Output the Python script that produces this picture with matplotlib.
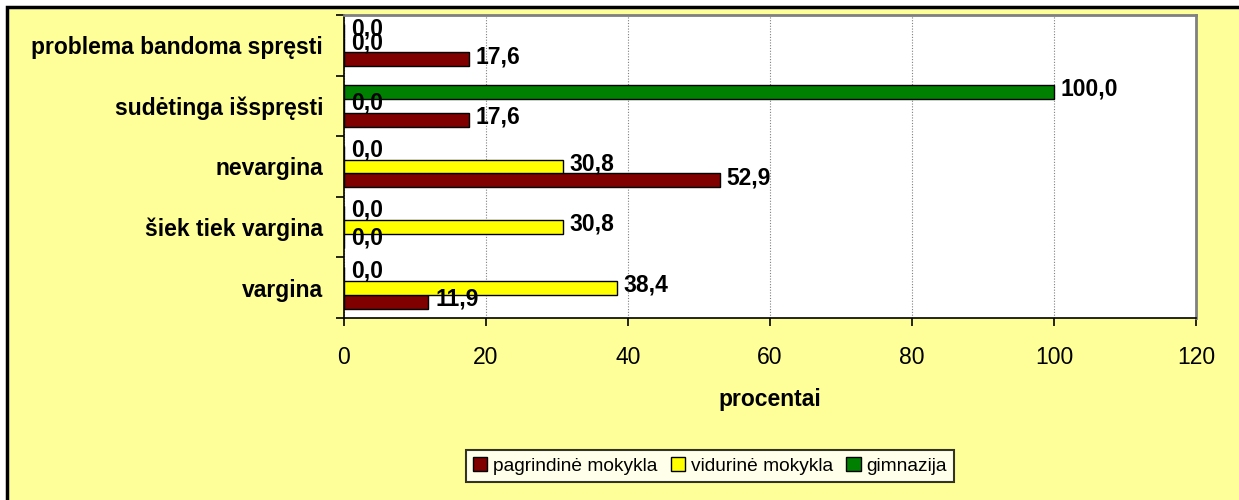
import matplotlib
matplotlib.use("Agg")
import matplotlib.pyplot as plt
from matplotlib.patches import Rectangle
import numpy as np

plt.rcParams['font.family'] = ['Liberation Sans', 'DejaVu Sans']

categories = ["vargina", "šiek tiek vargina", "nevargina",
              "sudėtinga išspręsti", "problema bandoma spręsti"]
series_names = ["pagrindinė mokykla", "vidurinė mokykla", "gimnazija"]
pagrindine = [11.9, 0.0, 52.9, 17.6, 17.6]
vidurine = [38.4, 30.8, 30.8, 0.0, 0.0]
gimnazija = [0.0, 0.0, 0.0, 100.0, 0.0]
xticks = [0, 20, 40, 60, 80, 100, 120]
xlabel = "procentai"

colors = ["#800000", "#FFFF00", "#008000"]
FS = 16.5
W, H = 1239, 500
fig = plt.figure(figsize=(W / 100, H / 100), dpi=100)
fig.patch.set_facecolor("white")
# yellow chart area with black border (top/left visible)
fig.patches.append(Rectangle((7 / W, -0.1), 1.2, (500 - 7) / H + 0.1,
                             transform=fig.transFigure, facecolor="#FFFF99",
                             edgecolor="black", linewidth=2.5, zorder=-10))

ax = fig.add_axes([344 / W, 1 - 318 / H, (1196 - 344) / W, (318 - 15) / H])
ax.set_zorder(5)
ax.set_facecolor("white")

h = 0.231
y = np.arange(len(categories))
data = [pagrindine, vidurine, gimnazija]
offsets = [-h, 0.0, h]
for vals, col, off, name in zip(data, colors, offsets, series_names):
    ax.barh(y + off, vals, height=h, color=col, edgecolor="black",
            linewidth=1.0, label=name, zorder=3)
    for yy, v in zip(y + off, vals):
        ax.annotate(f"{v:.1f}".replace(".", ","), xy=(v, yy),
                    xytext=(5, 2), textcoords="offset points",
                    ha="left", va="center", fontsize=FS, fontweight="bold",
                    zorder=4)

ax.set_xlim(0, 120)
ax.set_ylim(-0.5, len(categories) - 0.5)
ax.set_xticks(xticks)
ax.set_xticklabels([str(t) for t in xticks], fontsize=FS)
ax.set_yticks(y)
ax.set_yticklabels(categories, fontsize=FS, fontweight="bold")
ax.set_yticks(np.arange(-0.5, len(categories), 1.0), minor=True)
ax.tick_params(axis="y", which="major", length=0, pad=15)
ax.tick_params(axis="y", which="minor", length=6, width=1.2, direction="out")
ax.tick_params(axis="x", which="major", length=6, width=1.2, direction="out", pad=14)
ax.set_xlabel(xlabel, fontsize=FS, fontweight="bold", labelpad=14)

ax.grid(axis="x", color="#808080", linestyle=(0, (1, 1.5)), linewidth=0.8, zorder=1)
for s in ["top", "right"]:
    ax.spines[s].set_color("#808080")
    ax.spines[s].set_linewidth(2)
for s in ["left", "bottom"]:
    ax.spines[s].set_color("black")
    ax.spines[s].set_linewidth(1.2)

leg = fig.legend(loc="center", bbox_to_anchor=(710 / W, 1 - 466 / H), ncol=3,
                 fontsize=13.8, frameon=True, fancybox=False, handlelength=0.75,
                 handleheight=0.75, handletextpad=0.3, columnspacing=0.7,
                 borderpad=0.35, borderaxespad=0)
leg.get_frame().set_edgecolor("black")
leg.get_frame().set_linewidth(1.5)

fig.savefig("out.png", dpi=100, facecolor=fig.get_facecolor())
